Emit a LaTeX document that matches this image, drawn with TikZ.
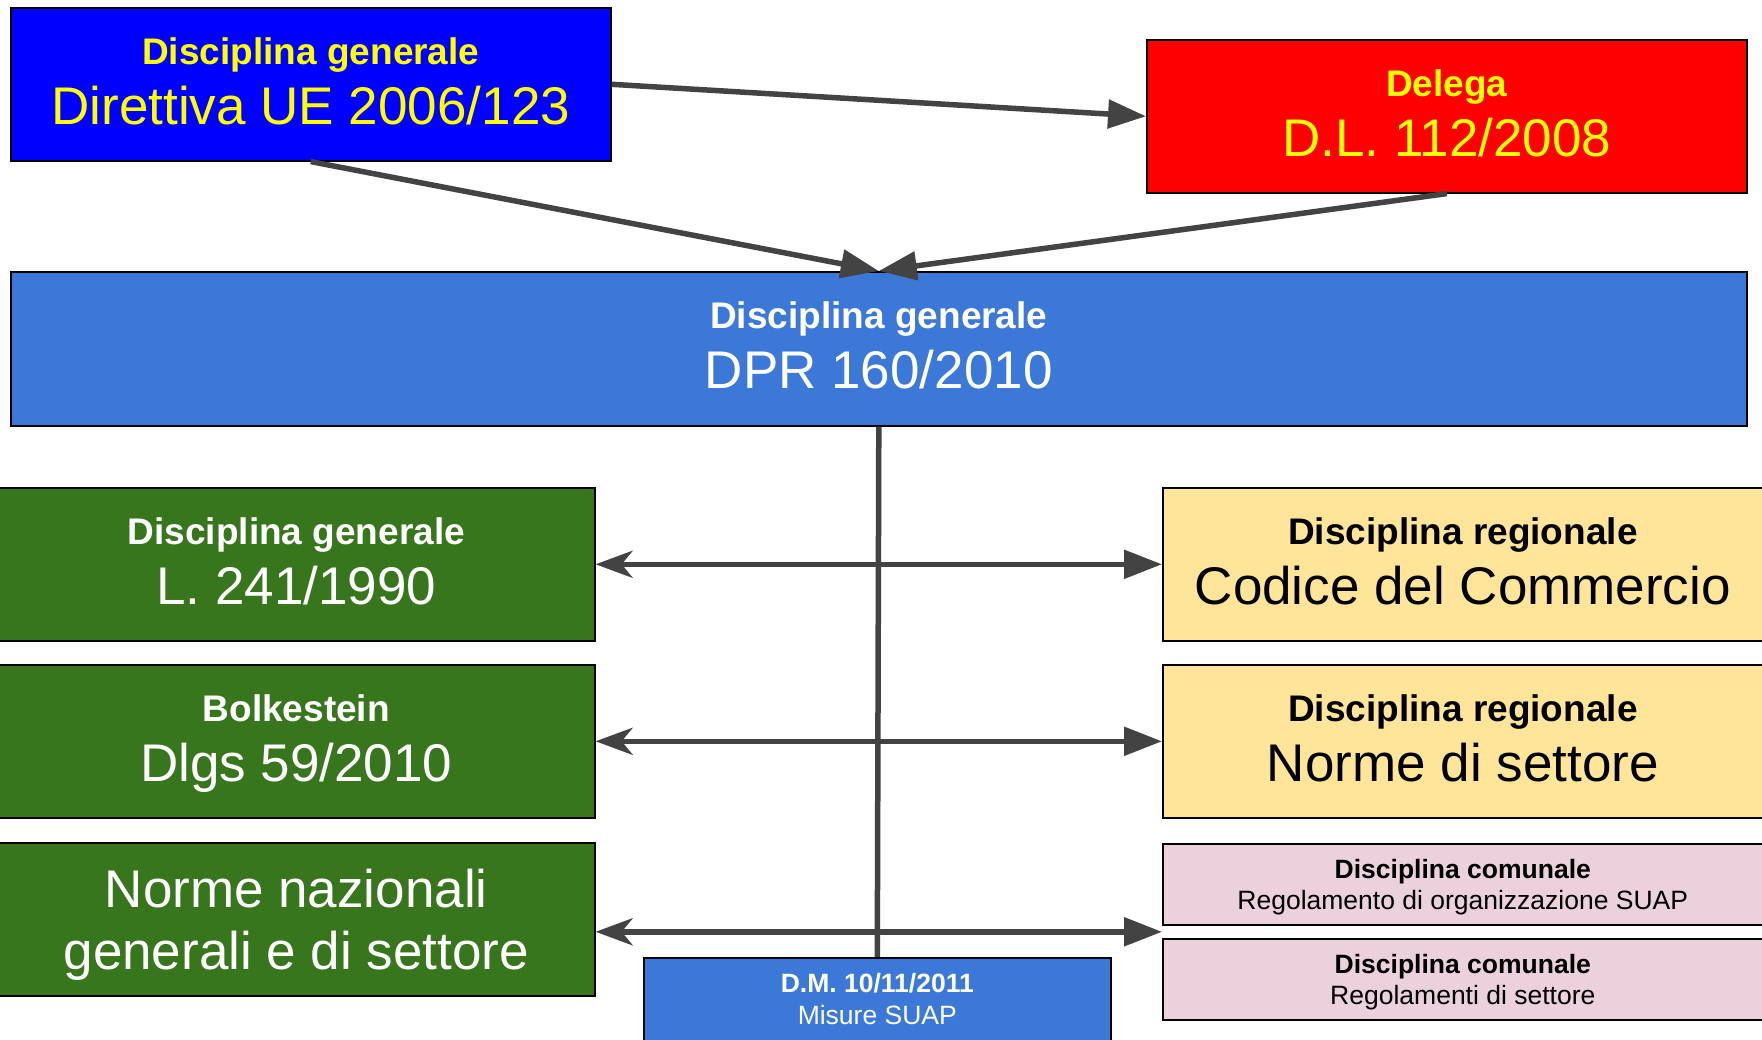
\documentclass[tikz,border=0pt]{standalone}
\usepackage{fontspec}
\setmainfont{Liberation Sans}
\usetikzlibrary{arrows.meta,calc}

\definecolor{eublue}{HTML}{0000FF}
\definecolor{dlred}{HTML}{FF0000}
\definecolor{signyellow}{HTML}{FFFF00}
\definecolor{dprblue}{HTML}{3C78D8}
\definecolor{natgreen}{HTML}{38761D}
\definecolor{regyellow}{HTML}{FFE599}
\definecolor{compink}{HTML}{EAD1DC}
\definecolor{linkgray}{HTML}{434343}

\tikzset{
  fullhead/.tip={Triangle[length=38pt,width=28pt]},
  openhead/.tip={Stealth[length=37pt,width=27pt,inset=11pt]},
}

\begin{document}
\begin{tikzpicture}[x=1pt,y=-1pt,
  box/.style={draw=black, line width=1.6pt, anchor=north west, inner sep=0pt,
              minimum width=600pt, minimum height=153pt},
  heading/.style={anchor=base, inner sep=0pt, font=\fontsize{37}{44}\selectfont\bfseries},
  big/.style={anchor=base, inner sep=0pt, font=\fontsize{53}{63}\selectfont},
  sheading/.style={anchor=base, inner sep=0pt, font=\fontsize{26.5}{31}\selectfont\bfseries},
  small/.style={anchor=base, inner sep=0pt, font=\fontsize{26.5}{31}\selectfont},
  link/.style={draw=linkgray, line width=5.5pt},
]
\path[use as bounding box, clip] (0,0) rectangle (1762,1040);
\fill[white] (0,0) rectangle (1762,1040);

% --- European and national sources at the top
\node[box, fill=eublue] (dir) at (10,7) {};
\node[heading, text=signyellow] (dirA) at ([yshift=20pt]dir.center) {Disciplina generale};
\node[big, text=signyellow] (dirB) at ([yshift=-40pt]dir.center) {Direttiva UE 2006/123};

\node[box, fill=dlred] (dl) at (1146,39) {};
\node[heading, text=signyellow] (dlA) at ([yshift=20pt]dl.center) {Delega};
\node[big, text=signyellow] (dlB) at ([yshift=-40pt]dl.center) {D.L. 112/2008};

% --- central regulation
\node[box, fill=dprblue, minimum width=1736pt, minimum height=154pt] (dpr) at (10,271) {};
\node[heading, text=white] (dprA) at ([yshift=20pt]dpr.center) {Disciplina generale};
\node[big, text=white] (dprB) at ([yshift=-40pt]dpr.center) {DPR 160/2010};

% --- national rules (left column)
\node[box, fill=natgreen, minimum width=597pt] (g1) at (-3,487) {};
\node[heading, text=white] (g1A) at ([yshift=20pt]g1.center) {Disciplina generale};
\node[big, text=white] (g1B) at ([yshift=-40pt]g1.center) {L. 241/1990};

\node[box, fill=natgreen, minimum width=597pt] (g2) at (-3,664) {};
\node[heading, text=white] (g2A) at ([yshift=20pt]g2.center) {Bolkestein};
\node[big, text=white] (g2B) at ([yshift=-40pt]g2.center) {Dlgs 59/2010};

\node[box, fill=natgreen, minimum width=597pt] (g3) at (-3,842) {};
\node[big, text=white] (g3A) at ([yshift=12pt]g3.center) {Norme nazionali};
\node[big, text=white] (g3B) at ([yshift=-50pt]g3.center) {generali e di settore};

% --- regional rules (right column)
\node[box, fill=regyellow] (r1) at (1162,487) {};
\node[heading] (r1A) at ([yshift=20pt]r1.center) {Disciplina regionale};
\node[big] (r1B) at ([yshift=-40pt]r1.center) {Codice del Commercio};

\node[box, fill=regyellow] (r2) at (1162,664) {};
\node[heading] (r2A) at ([yshift=20pt]r2.center) {Disciplina regionale};
\node[big] (r2B) at ([yshift=-40pt]r2.center) {Norme di settore};

% --- municipal rules
\node[box, fill=compink, minimum height=81pt] (c1) at (1162,843) {};
\node[sheading] (c1A) at ([yshift=6pt]c1.center) {Disciplina comunale};
\node[small] (c1B) at ([yshift=-25pt]c1.center) {Regolamento di organizzazione SUAP};

\node[box, fill=compink, minimum height=81pt] (c2) at (1162,938) {};
\node[sheading] (c2A) at ([yshift=6pt]c2.center) {Disciplina comunale};
\node[small] (c2B) at ([yshift=-25pt]c2.center) {Regolamenti di settore};

% --- ministerial decree
\node[box, fill=dprblue, minimum width=467pt, minimum height=100pt] (dm) at (643,957) {};
\node[sheading, text=white] (dmA) at ([yshift=-35pt]dm.north) {D.M. 10/11/2011};
\node[small, text=white] (dmB) at ([yshift=-67pt]dm.north) {Misure SUAP};

% --- connectors
\coordinate (mid) at ($(c1.south)!0.5!(c2.north)$);
\draw[link, -fullhead] (dir.east) -- (dl.west);
\draw[link, -fullhead] (dir.south) -- (dpr.north);
\draw[link, -fullhead] (dl.south) -- (dpr.north);
\draw[link] (dpr.south) -- (dm.north);
\draw[link, openhead-fullhead] (g1.east) -- (r1.west);
\draw[link, openhead-fullhead] (g2.east) -- (r2.west);
\draw[link, openhead-fullhead] (g3.east |- mid) -- (c1.west |- mid);
\end{tikzpicture}
\end{document}
